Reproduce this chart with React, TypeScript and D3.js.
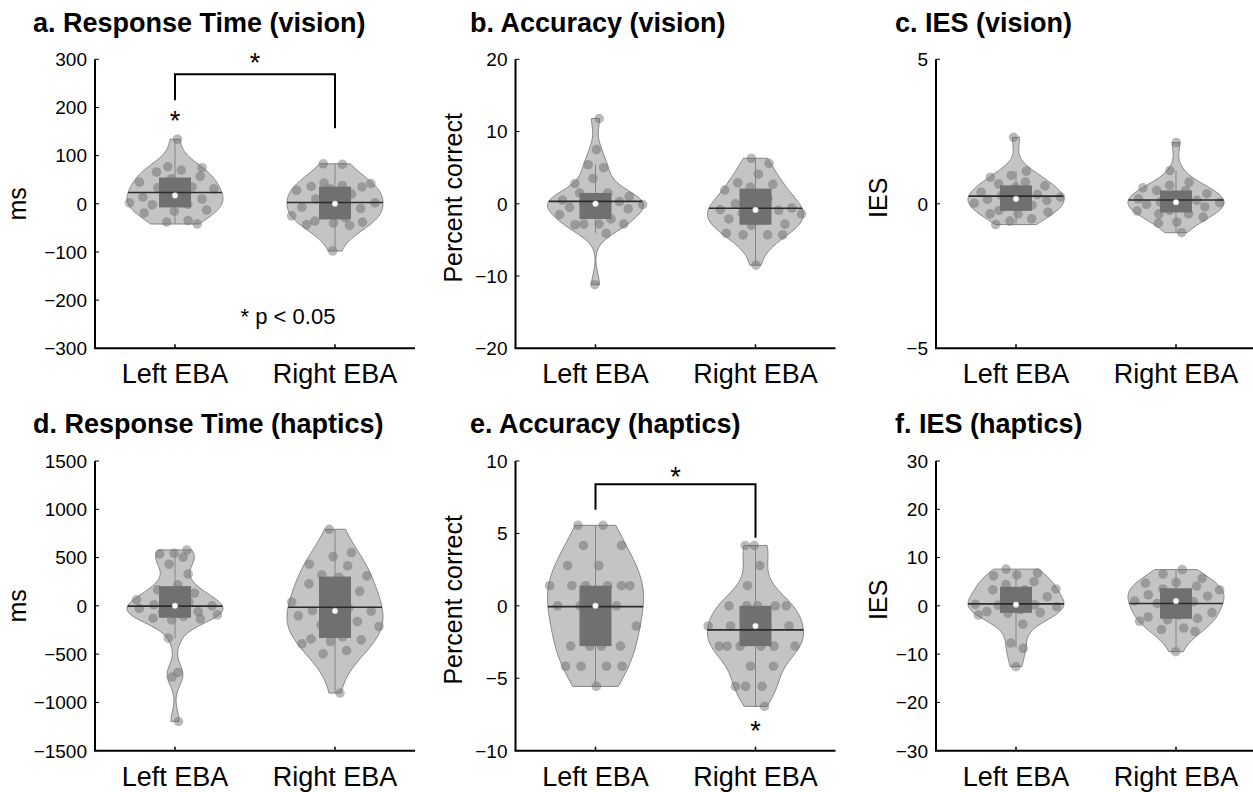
import React from 'react';
import * as d3 from 'd3';

const categories = ['Left EBA', 'Right EBA'];

const rtVisionLeft = [134, 77, 75, 70, 66, 57, 52, 45, 35, 33, 31, 20, 14, 10, 5, 2, -1, -2, -13, -15, -19, -35, -38, -42];
const rtVisionRight = [83, 82, 43, 42, 38, 36, 35, 31, 28, 20, 10, 2, -2, -7, -10, -14, -25, -29, -36, -38, -40, -43, -45, -98];
const accVisionLeft = [11.8, 7.5, 5.4, 5.0, 3.5, 2.8, 1.5, 1.5, 1.0, 0.8, 0.5, 0.3, 0.1, -0.1, -0.3, -0.5, -0.7, -1.0, -1.5, -2.1, -2.8, -2.8, -2.8, -2.9, -4.1, -11.2];
const accVisionRight = [6.3, 5.6, 4.1, 2.9, 2.7, 2.3, 1.9, 0.7, 0.0, -0.6, -0.7, -0.8, -0.9, -1.3, -1.4, -2.1, -2.1, -2.8, -3.0, -4.1, -4.3, -4.3, -4.3, -8.5];
const iesVisionLeft = [2.3, 1.13, 0.98, 0.92, 0.75, 0.69, 0.62, 0.58, 0.4, 0.32, 0.29, 0.23, 0.17, 0.15, 0.12, 0.06, 0.02, -0.05, -0.23, -0.29, -0.35, -0.35, -0.52, -0.6, -0.72];
const iesVisionRight = [2.12, 1.15, 0.75, 0.64, 0.55, 0.46, 0.46, 0.35, 0.29, 0.17, 0.12, 0.06, 0.04, 0.02, -0.02, -0.1, -0.23, -0.25, -0.35, -0.35, -0.46, -0.63, -0.67, -1.0];
const rtHapticsLeft = [579, 545, 538, 504, 431, 330, 217, 165, 131, 100, 62, 40, 10, 0, -5, -28, -59, -69, -93, -110, -128, -135, -145, -334, -690, -737, -1197];
const rtHapticsRight = [793, 552, 510, 431, 414, 321, 310, 296, 228, 150, 93, 40, -24, -50, -55, -90, -103, -162, -197, -214, -320, -345, -352, -369, -393, -462, -497, -903];
const accHapticsLeft = [5.56, 5.56, 4.17, 4.17, 2.78, 2.78, 1.39, 1.39, 1.39, 1.39, 1.39, 1.39, 0, 0, 0, 0, -1.39, -2.78, -2.78, -2.78, -2.78, -4.17, -4.17, -4.17, -4.17, -5.56];
const accHapticsRight = [4.17, 4.17, 2.78, 1.39, 0, 0, 0, 0, 0, -1.39, -1.39, -1.39, -1.39, -1.39, -2.78, -2.78, -2.78, -2.78, -2.78, -2.78, -4.17, -4.17, -5.56, -5.56, -5.56, -6.94];
const iesHapticsLeft = [7.6, 6.8, 6.4, 6.2, 5.0, 4.4, 3.5, 3.3, 3.3, 1.9, 0.8, 0.3, 0.2, 0.1, -0.2, -0.8, -1.2, -1.4, -1.5, -1.9, -3.8, -7.7, -8.8, -12.6];
const iesHapticsRight = [7.5, 6.6, 5.7, 4.8, 4.7, 4.1, 3.5, 3.3, 2.6, 2.3, 2.0, 1.1, 1.0, 0.9, 0.5, -1.4, -1.9, -2.3, -2.6, -2.9, -3.2, -4.6, -4.9, -5.3, -9.5];

const ticksRT = [-300, -200, -100, 0, 100, 200, 300];
const ticksAcc = [-20, -10, 0, 10, 20];
const ticksIES = [-5, 0, 5];
const ticksRTh = [-1500, -1000, -500, 0, 500, 1000, 1500];
const ticksAcch = [-10, -5, 0, 5, 10];
const ticksIESh = [-30, -20, -10, 0, 10, 20, 30];

// significance annotations (data units; x in category index)
const bracketA = { x1: 0, x2: 1, y: 269, yEnd1: 215, yEnd2: 157 };
const starsA = [{ x: 0.5, y: 304 }, { x: 0, y: 184 }];
const noteA = { x: 0.41, y: -233, text: '* p < 0.05' };
const bracketE = { x1: 0, x2: 1, y: 8.4, yEnd1: 6.63, yEnd2: 4.7 };
const starsE = [{ x: 0.5, y: 9.32 }, { x: 1, y: -8.2 }];

type Panel = {
  title: string; ylabel: string; ticks: number[]; series: number[][];
  col: number; row: number; bracket?: any; stars?: any[]; note?: any;
};

const panels: Panel[] = [
  { title: 'a. Response Time (vision)', ylabel: 'ms', ticks: ticksRT, series: [rtVisionLeft, rtVisionRight], col: 0, row: 0, bracket: bracketA, stars: starsA, note: noteA },
  { title: 'b. Accuracy (vision)', ylabel: 'Percent correct', ticks: ticksAcc, series: [accVisionLeft, accVisionRight], col: 1, row: 0 },
  { title: 'c. IES (vision)', ylabel: 'IES', ticks: ticksIES, series: [iesVisionLeft, iesVisionRight], col: 2, row: 0 },
  { title: 'd. Response Time (haptics)', ylabel: 'ms', ticks: ticksRTh, series: [rtHapticsLeft, rtHapticsRight], col: 0, row: 1 },
  { title: 'e. Accuracy (haptics)', ylabel: 'Percent correct', ticks: ticksAcch, series: [accHapticsLeft, accHapticsRight], col: 1, row: 1, bracket: bracketE, stars: starsE },
  { title: 'f. IES (haptics)', ylabel: 'IES', ticks: ticksIESh, series: [iesHapticsLeft, iesHapticsRight], col: 2, row: 1 },
];

// layout
const AXIS_LEFT = [95, 515.5, 936];
const TITLE_X = [33, 470, 895];
const YLABEL_X = [26, 462, 887];
const YLABEL_DY = [0, -6, -6];
const ROW_TOP = [59.3, 461];
const ROW_BOTTOM = [348.3, 750.7];
const TITLE_Y = [32, 433];
const AXIS_W = 320;
const HALF_W = 48;
const BOX_HALF = 16;
const FONT = "'Liberation Sans', Arial, Helvetica, sans-serif";

function quantile(sortedAsc: number[], p: number) {
  const n = sortedAsc.length;
  const pos = n * p + 0.5;
  if (pos <= 1) return sortedAsc[0];
  if (pos >= n) return sortedAsc[n - 1];
  const lo = Math.floor(pos);
  const f = pos - lo;
  return sortedAsc[lo - 1] + f * (sortedAsc[lo] - sortedAsc[lo - 1]);
}

function kde(data: number[]) {
  const n = data.length;
  const med = d3.median(data)!;
  const mad = d3.median(data.map(d => Math.abs(d - med)))!;
  const sig = mad / 0.6745;
  const bw = sig * Math.pow(4 / (3 * n), 0.2);
  const lo = d3.min(data)!, hi = d3.max(data)!;
  const N = 100;
  const pts = d3.range(N).map(i => lo + (hi - lo) * i / (N - 1));
  const dens = pts.map(v => d3.mean(data, d => Math.exp(-0.5 * ((v - d) / bw) ** 2))! / (bw * Math.sqrt(2 * Math.PI)));
  const mx = d3.max(dens)!;
  return pts.map((v, i) => ({ v, w: dens[i] / mx }));
}

function interpW(curve: { v: number; w: number }[], val: number) {
  if (val <= curve[0].v) return curve[0].w;
  if (val >= curve[curve.length - 1].v) return curve[curve.length - 1].w;
  for (let i = 1; i < curve.length; i++) {
    if (curve[i].v >= val) {
      const a = curve[i - 1], b = curve[i];
      const t = (val - a.v) / (b.v - a.v || 1);
      return a.w + t * (b.w - a.w);
    }
  }
  return 0;
}

function Violin({ data, cx, y, seed }: { data: number[]; cx: number; y: d3.ScaleLinear<number, number>; seed: number }) {
  const curve = kde(data);
  const right = curve.map(c => [cx + c.w * HALF_W, y(c.v)] as [number, number]);
  const left = curve.slice().reverse().map(c => [cx - c.w * HALF_W, y(c.v)] as [number, number]);
  const path = d3.line()([...right, ...left]) + 'Z';
  const sorted = data.slice().sort((a, b) => a - b);
  const q1 = quantile(sorted, 0.25), q3 = quantile(sorted, 0.75), med = quantile(sorted, 0.5);
  const iqr = q3 - q1;
  const hiW = d3.max(sorted.filter(d => d <= q3 + 1.5 * iqr))!;
  const loW = d3.min(sorted.filter(d => d >= q1 - 1.5 * iqr))!;
  const mean = d3.mean(data)!;
  const mw = interpW(curve, mean) * HALF_W;
  return (
    <g>
      <path d={path} fill="#c4c4c4" stroke="#858585" strokeWidth={1} />
      {data.map((d, i) => {
        const j = (((i + 1) * 0.6180339887 + seed) % 1) * 2 - 1;
        const jx = cx + j * interpW(curve, d) * HALF_W;
        return <circle key={i} cx={jx} cy={y(d)} r={4.8} fill="#656565" fillOpacity={0.45} />;
      })}
      <line x1={cx} x2={cx} y1={y(hiW)} y2={y(loW)} stroke="#858585" strokeWidth={1} />
      <rect x={cx - BOX_HALF} y={y(q3)} width={BOX_HALF * 2} height={y(q1) - y(q3)} fill="#707070" />
      <line x1={cx - mw} x2={cx + mw} y1={y(mean)} y2={y(mean)} stroke="#2b2b2b" strokeWidth={1.6} />
      <circle cx={cx} cy={y(med)} r={3} fill="#ffffff" stroke="#909090" strokeWidth={0.5} />
    </g>
  );
}

function PanelView({ p }: { p: Panel }) {
  const x0 = AXIS_LEFT[p.col];
  const top = ROW_TOP[p.row], bottom = ROW_BOTTOM[p.row];
  const ext = d3.extent(p.ticks) as [number, number];
  const y = d3.scaleLinear().domain(ext).range([bottom, top]);
  const x = d3.scaleLinear().domain([-0.5, 1.5]).range([x0, x0 + AXIS_W]);
  const fmt = d3.format('');
  const midY = (top + bottom) / 2 + YLABEL_DY[p.col];
  return (
    <g>
      <text x={TITLE_X[p.col]} y={TITLE_Y[p.row]} fontFamily={FONT} fontWeight="bold" fontSize={27} fill="#000">{p.title}</text>
      <text transform={`translate(${YLABEL_X[p.col]},${midY}) rotate(-90)`} textAnchor="middle" fontFamily={FONT} fontSize={25} fill="#000">{p.ylabel}</text>
      {p.series.map((s, i) => (
        <Violin key={i} data={s} cx={x(i)} y={y} seed={0.13 + i * 0.37 + p.col * 0.21 + p.row * 0.11} />
      ))}
      {/* axes */}
      <line x1={x0} x2={x0} y1={top} y2={bottom} stroke="#000" strokeWidth={2} />
      <line x1={x0 - 1} x2={x0 + AXIS_W} y1={bottom} y2={bottom} stroke="#000" strokeWidth={2} />
      {p.ticks.map(t => (
        <g key={t}>
          <line x1={x0} x2={x0 + 4} y1={y(t)} y2={y(t)} stroke="#000" strokeWidth={1} />
          <text x={x0 - 8} y={y(t) + 6.8} textAnchor="end" fontFamily={FONT} fontSize={19} fill="#000">{fmt(t)}</text>
        </g>
      ))}
      {categories.map((c, i) => (
        <g key={c}>
          <line x1={x(i)} x2={x(i)} y1={bottom} y2={bottom - 4} stroke="#000" strokeWidth={1.5} />
          <text x={x(i)} y={bottom + 35} textAnchor="middle" fontFamily={FONT} fontSize={27} fill="#000">{c}</text>
        </g>
      ))}
      {p.bracket && (
        <path
          d={`M${x(p.bracket.x1)},${y(p.bracket.yEnd1)} L${x(p.bracket.x1)},${y(p.bracket.y)} L${x(p.bracket.x2)},${y(p.bracket.y)} L${x(p.bracket.x2)},${y(p.bracket.yEnd2)}`}
          fill="none" stroke="#000" strokeWidth={2}
        />
      )}
      {p.stars && p.stars.map((s, i) => (
        <text key={i} x={x(s.x)} y={y(s.y) + 15} textAnchor="middle" fontFamily={FONT} fontSize={27} fill="#000">*</text>
      ))}
      {p.note && (
        <text x={x(p.note.x)} y={y(p.note.y) + 8} fontFamily={FONT} fontSize={22} fill="#000">{p.note.text}</text>
      )}
    </g>
  );
}

export default function App() {
  return (
    <svg width={1253} height={792} style={{ position: 'absolute', left: 0, top: 0, background: '#fff' }}>
      <rect x={0} y={0} width={1253} height={792} fill="#fff" />
      {panels.map((p, i) => <PanelView key={i} p={p} />)}
    </svg>
  );
}
